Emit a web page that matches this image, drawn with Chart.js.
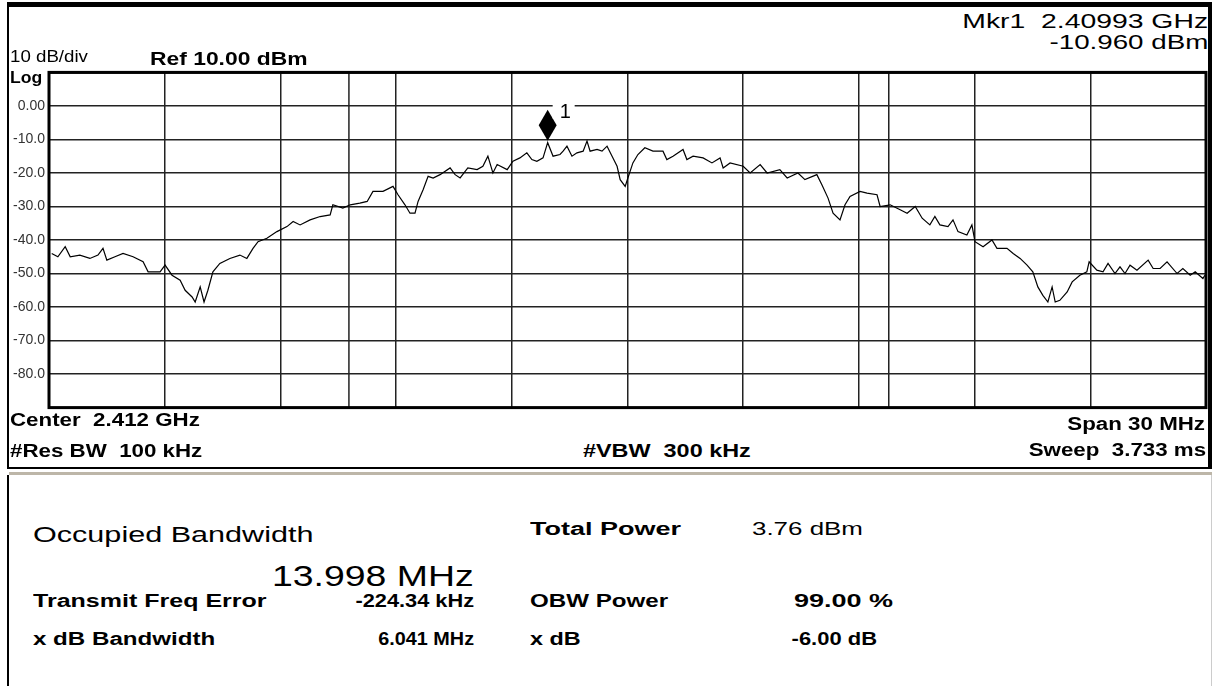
<!DOCTYPE html>
<html>
<head>
<meta charset="utf-8">
<script src="https://cdn.jsdelivr.net/npm/chart.js@4.4.0/dist/chart.umd.min.js"></script>
<style>
  body { margin: 0; background: #fff; width: 1216px; height: 686px; overflow: hidden; position: relative;
         font-family: "Liberation Sans", Arial, sans-serif; color: #000; }
  .t { position: absolute; white-space: pre; line-height: 1; transform-origin: left top; }
  .r { transform-origin: right top; }
  .b { font-weight: bold; }
  #frame { position: absolute; left: 7px; top: 2px; width: 1205px; height: 467px; box-sizing: border-box;
           border-style: solid; border-color: #000; border-width: 5px 4px 2px 2px; }
  #sep { position: absolute; left: 9px; top: 472px; width: 1203px; height: 3px; background: #bdb6a8; }
  #lowL { position: absolute; left: 7px; top: 475px; width: 2px; height: 211px; background: #000; }
  #lowR { position: absolute; left: 1211px; top: 475px; width: 1px; height: 211px; background: #ccc; }
  #sa { position: absolute; left: 0; top: 60px; }
</style>
</head>
<body>
<div id="frame"></div>
<div id="sep"></div>
<div id="lowL"></div>
<div id="lowR"></div>
<canvas id="sa" width="1216" height="360"></canvas>

<!-- screen annotations -->
<div class="t" style="left:10px;top:48px;font-size:17px;transform:scaleX(1.1)">10 dB/div</div>
<div class="t b" style="left:150px;top:50px;font-size:18px;transform:scaleX(1.27)">Ref 10.00 dBm</div>
<div class="t r" style="right:8px;top:10px;font-size:21px;transform:scaleX(1.35)">Mkr1  2.40993 GHz</div>
<div class="t r" style="right:8px;top:31px;font-size:21px;transform:scaleX(1.32)">-10.960 dBm</div>
<div class="t b" style="left:10px;top:70px;font-size:16px;transform:scaleX(1.1)">Log</div>
<div class="t b" style="left:10px;top:411px;font-size:18px;transform:scaleX(1.24)">Center  2.412 GHz</div>
<div class="t b" style="left:10px;top:442px;font-size:18px;transform:scaleX(1.24)">#Res BW  100 kHz</div>
<div class="t b" style="left:583px;top:442px;font-size:18px;transform:scaleX(1.3)">#VBW  300 kHz</div>
<div class="t b r" style="right:11px;top:415px;font-size:18px;transform:scaleX(1.24)">Span 30 MHz</div>
<div class="t b r" style="right:10px;top:441px;font-size:18px;transform:scaleX(1.24)">Sweep  3.733 ms</div>

<!-- measurement results -->
<div class="t" style="left:33px;top:524px;font-size:22px;transform:scaleX(1.39)">Occupied Bandwidth</div>
<div class="t" style="left:272px;top:562px;font-size:29px;transform:scaleX(1.29)">13.998 MHz</div>
<div class="t b" style="left:530px;top:520px;font-size:18px;transform:scaleX(1.5)">Total Power</div>
<div class="t" style="left:752px;top:520px;font-size:18px;transform:scaleX(1.44)">3.76 dBm</div>
<div class="t b" style="left:33px;top:592px;font-size:18px;transform:scaleX(1.39)">Transmit Freq Error</div>
<div class="t b r" style="right:742px;top:592px;font-size:18px;transform:scaleX(1.21)">-224.34 kHz</div>
<div class="t b" style="left:530px;top:592px;font-size:18px;transform:scaleX(1.34)">OBW Power</div>
<div class="t b r" style="right:323px;top:592px;font-size:18px;transform:scaleX(1.5)">99.00 %</div>
<div class="t b" style="left:33px;top:630px;font-size:18px;transform:scaleX(1.34)">x dB Bandwidth</div>
<div class="t b r" style="right:742px;top:630px;font-size:18px;transform:scaleX(1.1)">6.041 MHz</div>
<div class="t b" style="left:530px;top:630px;font-size:18px;transform:scaleX(1.3)">x dB</div>
<div class="t b r" style="right:339px;top:630px;font-size:18px;transform:scaleX(1.22)">-6.00 dB</div>

<script>
// sweep: 2.397 .. 2.427 GHz (center 2.412, span 30 MHz)
const startMHz = 2397;
const stopMHz = 2427;
const refLevel = 10;
const bottomLevel = -90;

// trace (MHz, dBm)
const freqMHz = [
  2397.07, 2397.23, 2397.42, 2397.55, 2397.80, 2398.06, 2398.27, 2398.40, 2398.50, 2398.71,
  2398.92, 2399.18, 2399.44, 2399.57, 2399.88, 2400.01, 2400.19, 2400.40, 2400.53, 2400.71,
  2400.79, 2400.92, 2401.02, 2401.12, 2401.25, 2401.43, 2401.69, 2401.95, 2402.13, 2402.29,
  2402.42, 2402.65, 2402.91, 2403.17, 2403.33, 2403.51, 2403.77, 2404.03, 2404.29, 2404.36,
  2404.62, 2404.81, 2405.06, 2405.25, 2405.40, 2405.66, 2405.92, 2406.05, 2406.23, 2406.36,
  2406.49, 2406.57, 2406.70, 2406.83, 2406.96, 2407.14, 2407.40, 2407.53, 2407.66, 2407.86,
  2408.10, 2408.25, 2408.38, 2408.51, 2408.62, 2408.88, 2409.03, 2409.21, 2409.39, 2409.52,
  2409.65, 2409.81, 2409.93, 2410.07, 2410.25, 2410.33, 2410.43, 2410.56, 2410.69, 2410.85,
  2410.95, 2411.03, 2411.21, 2411.34, 2411.47, 2411.60, 2411.73, 2411.81, 2411.94, 2412.01,
  2412.14, 2412.27, 2412.45, 2412.66, 2412.92, 2413.02, 2413.18, 2413.44, 2413.54, 2413.70,
  2413.96, 2414.19, 2414.40, 2414.48, 2414.66, 2415.00, 2415.18, 2415.44, 2415.62, 2415.95,
  2416.14, 2416.42, 2416.60, 2416.91, 2417.04, 2417.20, 2417.33, 2417.51, 2417.64, 2417.77,
  2418.03, 2418.21, 2418.47, 2418.55, 2418.81, 2419.07, 2419.25, 2419.46, 2419.64, 2419.84,
  2419.97, 2420.10, 2420.31, 2420.44, 2420.57, 2420.80, 2420.93, 2421.01, 2421.22, 2421.45,
  2421.58, 2421.84, 2422.00, 2422.18, 2422.36, 2422.51, 2422.64, 2422.77, 2422.90, 2423.01,
  2423.09, 2423.21, 2423.40, 2423.53, 2423.73, 2423.91, 2423.97, 2424.17, 2424.33, 2424.46,
  2424.64, 2424.77, 2424.90, 2425.03, 2425.21, 2425.50, 2425.63, 2425.81, 2425.99, 2426.25,
  2426.40, 2426.59, 2426.72, 2426.92, 2426.97
];
const levelDbm = [
  -44, -45, -42, -45, -44.5, -45.5, -44.5, -42.5, -46, -45,
  -44, -45, -46.5, -49.5, -49.5, -47.5, -50.5, -52, -55, -57,
  -58.5, -54, -58.5, -55, -49.5, -47, -45.5, -44.5, -45.5, -42.5,
  -40.5, -39.5, -37.5, -36, -34.5, -35.5, -34, -33, -32.5, -29.5,
  -30.5, -29.5, -29, -28.5, -25.5, -25.5, -24, -26.5, -29.5, -32,
  -32, -28.5, -25, -21, -21.5, -20.5, -18.5, -20.5, -21.5, -18.5,
  -19, -18, -15, -20, -17.5, -19, -16.5, -15.5, -14, -16,
  -16.5, -15.5, -10.96, -15, -14.5, -13.5, -12, -15, -14, -13.5,
  -10.5, -13.5, -13, -13.5, -12, -15, -18, -22, -24, -21.5,
  -17, -14.5, -12.5, -13.5, -13.5, -16, -15, -13, -16, -15,
  -15.5, -17, -15.5, -18.5, -17, -18, -20, -17.5, -20, -19,
  -21.5, -20, -22, -20.5, -23.5, -27.5, -32, -34, -29.5, -27,
  -25.5, -26, -26.5, -30, -29.5, -31, -32, -30, -33.5, -35.5,
  -33, -35.5, -36, -34, -37.5, -38.5, -35.5, -40.5, -42, -40,
  -42.5, -42.5, -44, -45.5, -47.5, -49.5, -54, -56.5, -58.5, -54,
  -58.5, -58, -55.5, -52.5, -50.5, -49.5, -46.5, -49, -49.5, -47,
  -50, -48, -50, -47.5, -49, -46, -48.5, -48.5, -46.5, -50,
  -48.5, -50.5, -49.5, -51.5, -50.5
];

// marker 1
const mkrFreq = 2409.93;
const mkrLevel = -10.96;
const mkrLabel = '1';

// occupied bandwidth edges: carrier 2412 MHz - 0.22434 MHz error, +/- 13.998/2
const obwCenter = 2412 - 0.22434;
const obwWidth = 13.998;
const obwLow = obwCenter - obwWidth / 2;
const obwHigh = obwCenter + obwWidth / 2;

const trace = freqMHz.map((f, i) => ({ x: f, y: levelDbm[i] }));

const framePlugin = {
  id: 'frame',
  afterDraw(c) {
    const a = c.chartArea, g = c.ctx;
    g.save();
    g.strokeStyle = '#000';
    g.lineWidth = 3;
    g.strokeRect(a.left, a.top, a.right - a.left, a.bottom - a.top);
    g.restore();
  }
};

const markerPlugin = {
  id: 'marker',
  afterDatasetsDraw(c) {
    const px = c.scales.x.getPixelForValue(mkrFreq);
    const py = c.scales.y.getPixelForValue(mkrLevel);
    const g = c.ctx;
    g.save();
    g.fillStyle = '#000';
    g.beginPath();
    g.moveTo(px, py - 2);
    g.lineTo(px - 9, py - 17.5);
    g.lineTo(px, py - 33);
    g.lineTo(px + 9, py - 17.5);
    g.closePath();
    g.fill();
    // label sits in a gap of the 0 dBm line
    g.fillStyle = '#fff';
    g.fillRect(px + 5, py - 42, 22, 18);
    g.fillStyle = '#000';
    g.font = '20px "Liberation Sans"';
    g.fillText(mkrLabel, px + 12, py - 25);
    g.restore();
  }
};

const ctx = document.getElementById('sa').getContext('2d');
const chart = new Chart(ctx, {
  type: 'line',
  data: {
    datasets: [
      { data: trace, borderColor: '#000', borderWidth: 1.2, pointRadius: 0, tension: 0 },
      { data: [{ x: obwLow, y: refLevel }, { x: obwLow, y: bottomLevel }], borderColor: '#222', borderWidth: 1.5, pointRadius: 0 },
      { data: [{ x: obwHigh, y: refLevel }, { x: obwHigh, y: bottomLevel }], borderColor: '#222', borderWidth: 1.5, pointRadius: 0 }
    ]
  },
  options: {
    responsive: false,
    animation: false,
    events: [],
    layout: { padding: { left: 0, right: 10, top: 11, bottom: 12 } },
    plugins: { legend: { display: false }, tooltip: { enabled: false } },
    scales: {
      x: {
        type: 'linear',
        min: startMHz,
        max: stopMHz,
        ticks: { display: false, stepSize: 3 },
        grid: { color: '#222', lineWidth: 1.5, drawTicks: false },
        border: { display: false },
        afterFit(s) { s.height = 0; }
      },
      y: {
        min: bottomLevel,
        max: refLevel,
        ticks: {
          stepSize: 10,
          padding: 4,
          color: '#333',
          font: { family: 'Liberation Sans', size: 14 },
          callback: v => (v === refLevel || v === bottomLevel) ? '' : (v === 0 ? '0.00' : v.toFixed(1))
        },
        grid: { color: '#222', lineWidth: 1.5, drawTicks: false },
        border: { display: false },
        afterFit(s) { s.width = 49; }
      }
    }
  },
  plugins: [framePlugin, markerPlugin]
});
</script>
</body>
</html>
